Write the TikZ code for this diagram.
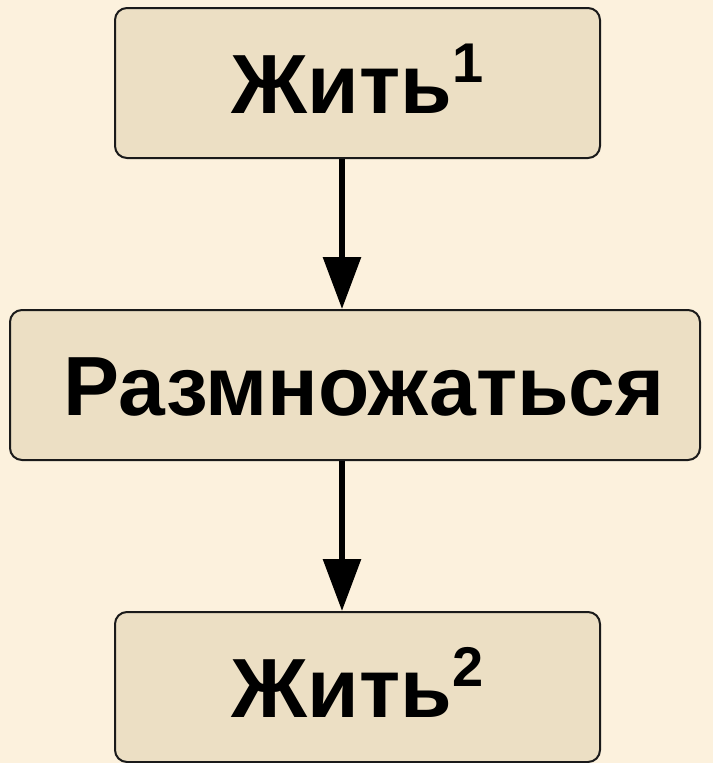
\documentclass[tikz,border=0pt]{standalone}
\usepackage{fontspec}
\setmainfont{Liberation Sans}
\usepackage{tikz}
\usetikzlibrary{arrows.meta,positioning}
\definecolor{pagebeige}{HTML}{FCF1DD}
\definecolor{boxtan}{HTML}{ECDFC4}
\definecolor{boxline}{HTML}{1A1A1A}
\newcommand{\supnum}[1]{\raisebox{31pt}{\fontsize{56}{56}\selectfont #1}}

\begin{document}
\begin{tikzpicture}[x=1pt,y=-1pt]
      \fill[pagebeige] (0,0) rectangle (713,763);
      \useasboundingbox (0,0) rectangle (713,763);

      \begin{scope}[every node/.style={rectangle, rounded corners=12pt, draw=boxline,
                    line width=2pt, fill=boxtan, inner sep=0pt,
                    font=\bfseries\fontsize{84}{90}\selectfont,
                    text height=60pt, text depth=0pt}]
          \node[minimum width=485pt, minimum height=150pt] (live1) at (357.5,83) {Жить\supnum{1}};
          \node[minimum width=690pt, minimum height=150pt] (breed) at (355,385) {\hspace*{18pt}Размножаться};
          \node[minimum width=485pt, minimum height=150pt] (live2) at (357.5,687) {Жить\supnum{2}};
      \end{scope}

      \coordinate (axis) at (342,0);
      \begin{scope}[>={Triangle[width=37pt,length=52pt]}, line width=6pt]
          \draw [->] (live1.south -| axis) -- (breed.north -| axis);
          \draw [->] (breed.south -| axis) -- (live2.north -| axis);
      \end{scope}
      \end{tikzpicture}
\end{document}
